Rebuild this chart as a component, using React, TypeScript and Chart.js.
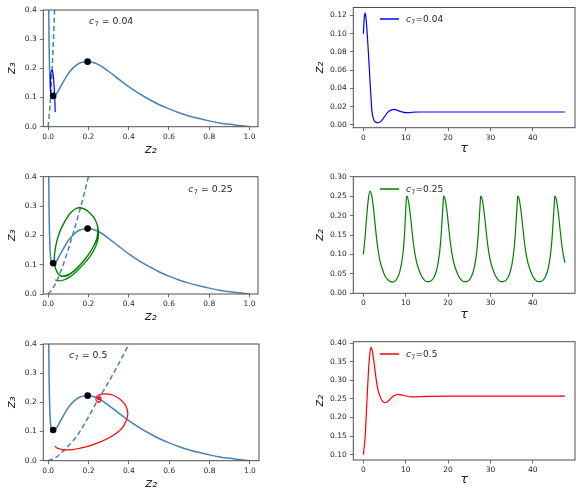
import React, { useEffect, useRef } from "react";
import { Chart, registerables } from "chart.js";

Chart.register(...registerables);

const FAMILY = "'DejaVu Sans', 'Liberation Sans', sans-serif";
const NULL_COLOR = "#4682b4";
const TEXT = "#262626";
const FRAME = "#4d4d4d";

// ---------- phase plane data ----------
const NULL_Z2 = [0.003, 0.004, 0.005, 0.007, 0.009, 0.012, 0.016, 0.021, 0.027, 0.035, 0.045, 0.06, 0.08, 0.1, 0.12, 0.14, 0.16, 0.18, 0.2, 0.22, 0.25, 0.3, 0.35, 0.4, 0.45, 0.5, 0.55, 0.6, 0.65, 0.7, 0.75, 0.8, 0.85, 0.9, 0.95, 1.0];
const NULL_Z3 = [0.42, 0.33, 0.27, 0.2, 0.16, 0.126, 0.112, 0.106, 0.105, 0.107, 0.116, 0.135, 0.16, 0.182, 0.199, 0.211, 0.219, 0.222, 0.223, 0.221, 0.213, 0.19, 0.163, 0.137, 0.114, 0.094, 0.076, 0.061, 0.048, 0.037, 0.028, 0.02, 0.013, 0.008, 0.004, 0.0];

const DOT_Z2 = [0.025, 0.196];
const DOT_Z3 = [0.105, 0.223];

const DASH1_Z2 = [0, 0.006, 0.0126, 0.02, 0.026, 0.032, 0.036];
const DASH1_Z3 = [0, 0.045, 0.105, 0.2, 0.29, 0.4, 0.47];

const DASH2_Z2 = [0, 0.02, 0.048, 0.08, 0.114, 0.15, 0.2, 0.21];
const DASH2_Z3 = [0, 0.016, 0.052, 0.11, 0.183, 0.268, 0.4, 0.43];

const DASH3_Z2 = [0, 0.04, 0.073, 0.11, 0.147, 0.2, 0.243, 0.29, 0.329, 0.4, 0.41];
const DASH3_Z3 = [0, 0.012, 0.032, 0.058, 0.089, 0.15, 0.204, 0.258, 0.306, 0.4, 0.415];

const TRAJ1_Z2 = [0.035, 0.034, 0.032, 0.029, 0.026, 0.022, 0.018, 0.014, 0.012, 0.0115, 0.013, 0.016, 0.02, 0.025, 0.029, 0.03, 0.028, 0.025, 0.023, 0.024, 0.025];
const TRAJ1_Z3 = [0.05, 0.08, 0.11, 0.145, 0.172, 0.19, 0.194, 0.185, 0.165, 0.14, 0.12, 0.108, 0.102, 0.101, 0.105, 0.112, 0.116, 0.114, 0.109, 0.105, 0.105];

const TRAJ2_Z2 = [
  0.035, 0.05, 0.07, 0.1, 0.13, 0.16, 0.19, 0.215, 0.235, 0.248, 0.25, 0.242, 0.225, 0.2, 0.175, 0.155, 0.135, 0.11, 0.085, 0.062, 0.045, 0.034, 0.031, 0.036, 0.047, 0.062,
  0.08, 0.105, 0.135, 0.165, 0.195, 0.22, 0.24, 0.247, 0.243, 0.227, 0.203, 0.178, 0.157, 0.137, 0.112, 0.087, 0.063, 0.046, 0.035, 0.031, 0.036, 0.048, 0.065,
  0.085, 0.11, 0.14, 0.17, 0.2, 0.224, 0.241, 0.247, 0.242, 0.226, 0.202, 0.177, 0.156, 0.136, 0.111, 0.086, 0.062, 0.045, 0.034, 0.03, 0.035, 0.047, 0.064,
  0.085, 0.11, 0.14, 0.17, 0.2, 0.224, 0.241, 0.247,
];
const TRAJ2_Z3 = [
  0.048, 0.045, 0.046, 0.055, 0.07, 0.09, 0.112, 0.135, 0.16, 0.188, 0.215, 0.24, 0.262, 0.28, 0.291, 0.294, 0.29, 0.275, 0.25, 0.218, 0.185, 0.15, 0.12, 0.09, 0.072, 0.062,
  0.06, 0.066, 0.082, 0.103, 0.128, 0.155, 0.183, 0.21, 0.237, 0.26, 0.279, 0.29, 0.295, 0.291, 0.277, 0.252, 0.22, 0.186, 0.15, 0.118, 0.09, 0.071, 0.061,
  0.062, 0.069, 0.086, 0.108, 0.133, 0.16, 0.188, 0.214, 0.24, 0.262, 0.28, 0.291, 0.295, 0.291, 0.277, 0.252, 0.22, 0.186, 0.15, 0.118, 0.09, 0.071, 0.062,
  0.063, 0.07, 0.087, 0.109, 0.134, 0.161, 0.189, 0.215,
];

const TRAJ3_Z2 = [0.033, 0.045, 0.065, 0.09, 0.12, 0.16, 0.2, 0.25, 0.3, 0.34, 0.37, 0.388, 0.395, 0.39, 0.375, 0.35, 0.32, 0.29, 0.265, 0.245, 0.237, 0.24, 0.25, 0.26, 0.262, 0.256, 0.248, 0.248, 0.252, 0.254, 0.252];
const TRAJ3_Z3 = [0.05, 0.043, 0.039, 0.037, 0.038, 0.043, 0.05, 0.062, 0.078, 0.095, 0.115, 0.14, 0.16, 0.18, 0.198, 0.214, 0.225, 0.229, 0.228, 0.222, 0.213, 0.204, 0.2, 0.205, 0.213, 0.218, 0.215, 0.21, 0.209, 0.212, 0.212];

// ---------- time series data ----------
const TAU1 = [0, 0.2, 0.4, 0.6, 0.8, 1.0, 1.2, 1.4, 1.6, 1.8, 2.0, 2.3, 2.6, 3.0, 3.4, 3.8, 4.3, 4.9, 5.5, 6.1, 6.7, 7.3, 7.9, 8.5, 9.2, 10.0, 10.8, 11.8, 13, 15, 20, 25, 30, 35, 40, 45, 47.6];
const Z2_1 = [0.1, 0.117, 0.1225, 0.118, 0.107, 0.093, 0.078, 0.062, 0.045, 0.03, 0.016, 0.008, 0.0045, 0.0028, 0.0025, 0.003, 0.0048, 0.0085, 0.0125, 0.0152, 0.0166, 0.017, 0.0163, 0.0152, 0.0142, 0.0136, 0.0136, 0.0139, 0.0142, 0.0142, 0.0142, 0.0142, 0.0142, 0.0142, 0.0142, 0.0142, 0.0142];

const TAU2 = [
  0, 0.4, 0.8, 1.2, 1.55, 1.95, 2.35, 2.75, 3.15, 3.55, 3.95, 4.55, 5.15, 5.75, 6.35, 6.95, 7.55, 8.05, 8.55, 8.95, 9.35, 9.65, 9.9, 10.05, 10.2,
  10.6, 11.0, 11.4, 11.8, 12.2, 12.6, 13.2, 13.8, 14.4, 15.0, 15.6, 16.2, 16.7, 17.2, 17.6, 18.0, 18.3, 18.6, 18.8, 18.95,
  19.35, 19.75, 20.15, 20.55, 20.95, 21.35, 21.95, 22.55, 23.15, 23.75, 24.35, 24.95, 25.45, 25.95, 26.35, 26.75, 27.05, 27.35, 27.55, 27.7,
  28.1, 28.5, 28.9, 29.3, 29.7, 30.1, 30.7, 31.3, 31.9, 32.5, 33.1, 33.7, 34.2, 34.7, 35.1, 35.5, 35.8, 36.1, 36.3, 36.45,
  36.85, 37.25, 37.65, 38.05, 38.45, 38.85, 39.45, 40.05, 40.65, 41.25, 41.85, 42.45, 42.95, 43.45, 43.85, 44.25, 44.55, 44.85, 45.05, 45.2,
  45.6, 46.0, 46.4, 46.8, 47.2, 47.6,
];
const Z2_2 = [
  0.1, 0.145, 0.2, 0.245, 0.263, 0.252, 0.222, 0.18, 0.138, 0.105, 0.082, 0.06, 0.044, 0.035, 0.03, 0.029, 0.032, 0.04, 0.054, 0.073, 0.103, 0.14, 0.19, 0.225, 0.25,
  0.24, 0.21, 0.17, 0.13, 0.1, 0.079, 0.058, 0.043, 0.034, 0.03, 0.03, 0.034, 0.042, 0.056, 0.075, 0.105, 0.14, 0.19, 0.225, 0.25,
  0.24, 0.21, 0.17, 0.13, 0.1, 0.079, 0.058, 0.043, 0.034, 0.03, 0.03, 0.034, 0.042, 0.056, 0.075, 0.105, 0.14, 0.19, 0.225, 0.25,
  0.24, 0.21, 0.17, 0.13, 0.1, 0.079, 0.058, 0.043, 0.034, 0.03, 0.03, 0.034, 0.042, 0.056, 0.075, 0.105, 0.14, 0.19, 0.225, 0.25,
  0.24, 0.21, 0.17, 0.13, 0.1, 0.079, 0.058, 0.043, 0.034, 0.03, 0.03, 0.034, 0.042, 0.056, 0.075, 0.105, 0.14, 0.19, 0.225, 0.25,
  0.24, 0.21, 0.17, 0.13, 0.1, 0.079,
];

const TAU3 = [0, 0.4, 0.8, 1.2, 1.5, 1.8, 2.1, 2.5, 3.0, 3.5, 4.0, 4.5, 5.0, 5.5, 6.0, 6.5, 7.0, 7.5, 8.0, 8.5, 9.0, 10, 11, 12, 13, 15, 20, 25, 30, 35, 40, 45, 47.6];
const Z2_3 = [0.1, 0.146, 0.235, 0.325, 0.37, 0.389, 0.38, 0.35, 0.305, 0.272, 0.255, 0.244, 0.24, 0.241, 0.246, 0.252, 0.257, 0.26, 0.262, 0.262, 0.261, 0.258, 0.256, 0.2555, 0.256, 0.257, 0.2575, 0.2575, 0.2575, 0.2575, 0.2575, 0.2575, 0.2575];

// ---------- ticks and labels ----------
const PHASE_X_TICKS = [0, 0.2, 0.4, 0.6, 0.8, 1.0];
const PHASE_Y_TICKS = [0, 0.1, 0.2, 0.3, 0.4];
const TAU_TICKS = [0, 10, 20, 30, 40];
const Y1_TICKS = [0, 0.02, 0.04, 0.06, 0.08, 0.1, 0.12];
const Y2_TICKS = [0, 0.05, 0.1, 0.15, 0.2, 0.25, 0.3];
const Y3_TICKS = [0.1, 0.15, 0.2, 0.25, 0.3, 0.35, 0.4];
const C7_VALUES = ["0.04", "0.25", "0.5"];

type Curve = {
  xs: number[];
  ys: number[];
  color: string;
  width: number;
  dash?: number[];
  dots?: boolean;
  mono?: boolean;
  order: number;
};

type Panel = {
  box: { x: number; y: number; w: number; h: number };
  area: { l: number; t: number; r: number; b: number };
  xr: [number, number];
  yr: [number, number];
  xTicks: number[];
  yTicks: number[];
  xDec: number;
  yDec: number;
  xLabel: string;
  yLabel: string;
  xLabelPad: number;
  yLabelPad: number;
  curves: Curve[];
  note?: { x: number; y: number; rest: string };
  legend?: { color: string; x1: number; x2: number; y: number; tx: number; rest: string };
};

function phaseCurves(dashX: number[], dashY: number[], trX: number[], trY: number[], color: string): Curve[] {
  return [
    { xs: DOT_Z2, ys: DOT_Z3, color: "#000", width: 0, dots: true, order: 0 },
    { xs: trX, ys: trY, color, width: 1.2, order: 1 },
    { xs: NULL_Z2, ys: NULL_Z3, color: NULL_COLOR, width: 1.5, mono: true, order: 2 },
    { xs: dashX, ys: dashY, color: NULL_COLOR, width: 1.5, dash: [5, 3], mono: true, order: 3 },
  ];
}

const LEFT_BOX_W = 290;
const RIGHT_BOX_X = 296;
const RIGHT_BOX_W = 286;

const PANELS: Panel[] = [
  {
    box: { x: 0, y: 0, w: LEFT_BOX_W, h: 162 },
    area: { l: 43.3, t: 10, r: 258, b: 126.7 },
    xr: [-0.024, 1.042], yr: [0, 0.4],
    xTicks: PHASE_X_TICKS, yTicks: PHASE_Y_TICKS, xDec: 1, yDec: 1,
    xLabel: "z₂", yLabel: "z₃", xLabelPad: 5.5, yLabelPad: 5.5,
    curves: phaseCurves(DASH1_Z2, DASH1_Z3, TRAJ1_Z2, TRAJ1_Z3, "#0000ff"),
    note: { x: 89, y: 24.3, rest: " = " + C7_VALUES[0] },
  },
  {
    box: { x: RIGHT_BOX_X, y: 0, w: RIGHT_BOX_W, h: 162 },
    area: { l: 353.3, t: 6, r: 575, b: 127.7 },
    xr: [-2.38, 49.98], yr: [-0.003, 0.1287],
    xTicks: TAU_TICKS, yTicks: Y1_TICKS, xDec: 0, yDec: 2,
    xLabel: "τ", yLabel: "z₂", xLabelPad: 6.5, yLabelPad: 17.5,
    curves: [{ xs: TAU1, ys: Z2_1, color: "#0000ff", width: 1.2, mono: true, order: 0 }],
    legend: { color: "#0000ff", x1: 380, x2: 399, y: 19, tx: 406, rest: "=" + C7_VALUES[0] },
  },
  {
    box: { x: 0, y: 162, w: LEFT_BOX_W, h: 166 },
    area: { l: 43.3, t: 176.7, r: 258, b: 294 },
    xr: [-0.024, 1.042], yr: [0, 0.4],
    xTicks: PHASE_X_TICKS, yTicks: PHASE_Y_TICKS, xDec: 1, yDec: 1,
    xLabel: "z₂", yLabel: "z₃", xLabelPad: 4.8, yLabelPad: 5.5,
    curves: phaseCurves(DASH2_Z2, DASH2_Z3, TRAJ2_Z2, TRAJ2_Z3, "#008000"),
    note: { x: 188.3, y: 192.3, rest: " = " + C7_VALUES[1] },
  },
  {
    box: { x: RIGHT_BOX_X, y: 162, w: RIGHT_BOX_W, h: 166 },
    area: { l: 353.3, t: 176.7, r: 575, b: 293.3 },
    xr: [-2.38, 49.98], yr: [0, 0.3],
    xTicks: TAU_TICKS, yTicks: Y2_TICKS, xDec: 0, yDec: 2,
    xLabel: "τ", yLabel: "z₂", xLabelPad: 6.5, yLabelPad: 17.5,
    curves: [{ xs: TAU2, ys: Z2_2, color: "#008000", width: 1.2, mono: true, order: 0 }],
    legend: { color: "#008000", x1: 380, x2: 399, y: 189, tx: 406, rest: "=" + C7_VALUES[1] },
  },
  {
    box: { x: 0, y: 328, w: LEFT_BOX_W, h: 166 },
    area: { l: 43.3, t: 344, r: 259, b: 460.7 },
    xr: [-0.024, 1.045], yr: [0, 0.4],
    xTicks: PHASE_X_TICKS, yTicks: PHASE_Y_TICKS, xDec: 1, yDec: 1,
    xLabel: "z₂", yLabel: "z₃", xLabelPad: 3.5, yLabelPad: 5.5,
    curves: phaseCurves(DASH3_Z2, DASH3_Z3, TRAJ3_Z2, TRAJ3_Z3, "#ff0000"),
    note: { x: 69, y: 358.3, rest: " = " + C7_VALUES[2] },
  },
  {
    box: { x: RIGHT_BOX_X, y: 328, w: RIGHT_BOX_W, h: 166 },
    area: { l: 353.3, t: 341.7, r: 575, b: 460 },
    xr: [-2.38, 49.98], yr: [0.0855, 0.4045],
    xTicks: TAU_TICKS, yTicks: Y3_TICKS, xDec: 0, yDec: 2,
    xLabel: "τ", yLabel: "z₂", xLabelPad: 7.5, yLabelPad: 17.5,
    curves: [{ xs: TAU3, ys: Z2_3, color: "#ff0000", width: 1.2, mono: true, order: 0 }],
    legend: { color: "#ff0000", x1: 380, x2: 399, y: 354, tx: 406, rest: "=" + C7_VALUES[2] },
  },
];

function drawC7(ctx: CanvasRenderingContext2D, x: number, y: number, rest: string, size: number) {
  ctx.font = `italic ${size}px ${FAMILY}`;
  ctx.fillText("c", x, y);
  let w = ctx.measureText("c").width;
  const sub = size * 0.7;
  ctx.font = `${sub}px ${FAMILY}`;
  ctx.fillText("7", x + w + 0.3, y + size * 0.2);
  w += ctx.measureText("7").width + 0.6;
  ctx.font = `${size}px ${FAMILY}`;
  ctx.fillText(rest, x + w, y);
}

function ChartPanel({ p }: { p: Panel }) {
  const ref = useRef<HTMLCanvasElement>(null);
  useEffect(() => {
    const canvas = ref.current;
    if (!canvas) return;
    const { box, area } = p;
    const yAxisW = area.l - box.x;
    const xAxisH = box.y + box.h - area.b;

    const decor = {
      id: "decor",
      afterDatasetsDraw(chart: any) {
        const ctx: CanvasRenderingContext2D = chart.ctx;
        const a = chart.chartArea;
        ctx.save();
        ctx.strokeStyle = FRAME;
        ctx.lineWidth = 1;
        ctx.strokeRect(a.left, a.top, a.right - a.left, a.bottom - a.top);
        ctx.fillStyle = TEXT;
        ctx.textAlign = "left";
        ctx.textBaseline = "alphabetic";
        if (p.note) drawC7(ctx, p.note.x - box.x, p.note.y - box.y, p.note.rest, 9.3);
        if (p.legend) {
          const L = p.legend;
          ctx.strokeStyle = L.color;
          ctx.lineWidth = 1.5;
          ctx.beginPath();
          ctx.moveTo(L.x1 - box.x, L.y - box.y);
          ctx.lineTo(L.x2 - box.x, L.y - box.y);
          ctx.stroke();
          ctx.fillStyle = TEXT;
          drawC7(ctx, L.tx - box.x, L.y - box.y + 3.3, L.rest, 9);
        }
        ctx.restore();
      },
    };

    const datasets = p.curves.map((c) => ({
      data: c.xs.map((x, i) => ({ x, y: c.ys[i] })),
      showLine: !c.dots,
      borderColor: c.color,
      backgroundColor: c.color,
      borderWidth: c.width,
      borderDash: c.dash || [],
      pointRadius: c.dots ? 3.3 : 0,
      pointBorderWidth: 0,
      pointBackgroundColor: c.color,
      tension: c.mono ? 0 : 0.4,
      cubicInterpolationMode: c.mono ? "monotone" : "default",
      order: c.order,
      fill: false,
    }));

    const tickFont = { family: FAMILY, size: 7.5 };
    const titleFont = { family: FAMILY, size: 13, style: "italic" as const, lineHeight: 1 };

    const chart = new Chart(canvas, {
      type: "scatter",
      data: { datasets: datasets as any },
      plugins: [decor],
      options: {
        animation: false,
        responsive: true,
        maintainAspectRatio: false,
        events: [],
        layout: {
          padding: { left: 0, top: area.t - box.y, right: box.x + box.w - area.r, bottom: 0 },
        },
        plugins: { legend: { display: false }, tooltip: { enabled: false }, title: { display: false } },
        scales: {
          x: {
            type: "linear",
            min: p.xr[0],
            max: p.xr[1],
            afterBuildTicks: (s: any) => {
              s.ticks = p.xTicks.map((v) => ({ value: v }));
            },
            afterFit: (s: any) => {
              s.height = xAxisH;
            },
            ticks: {
              autoSkip: false,
              maxRotation: 0,
              padding: 2,
              color: TEXT,
              font: tickFont,
              callback: (v: any) => Number(v).toFixed(p.xDec),
            },
            grid: { display: true, drawOnChartArea: false, drawTicks: true, tickLength: 3.5, color: FRAME, lineWidth: 0.8 },
            border: { display: false },
            title: { display: true, text: p.xLabel, color: TEXT, font: titleFont, padding: { top: 0, bottom: p.xLabelPad } },
          },
          y: {
            type: "linear",
            min: p.yr[0],
            max: p.yr[1],
            afterBuildTicks: (s: any) => {
              s.ticks = p.yTicks.map((v) => ({ value: v }));
            },
            afterFit: (s: any) => {
              s.width = yAxisW;
            },
            ticks: {
              autoSkip: false,
              padding: 3,
              color: TEXT,
              font: tickFont,
              callback: (v: any) => Number(v).toFixed(p.yDec),
            },
            grid: { display: true, drawOnChartArea: false, drawTicks: true, tickLength: 3.5, color: FRAME, lineWidth: 0.8 },
            border: { display: false },
            title: { display: true, text: p.yLabel, color: TEXT, font: titleFont, padding: { top: p.yLabelPad, bottom: 0 } },
          },
        },
      } as any,
    });
    return () => chart.destroy();
  }, [p]);

  return (
    <div style={{ position: "absolute", left: p.box.x, top: p.box.y, width: p.box.w, height: p.box.h }}>
      <canvas ref={ref} />
    </div>
  );
}

export default function App() {
  return (
    <div style={{ position: "absolute", left: 0, top: 0, width: 582, height: 494, background: "#fff" }}>
      {PANELS.map((p, i) => (
        <ChartPanel key={i} p={p} />
      ))}
    </div>
  );
}
